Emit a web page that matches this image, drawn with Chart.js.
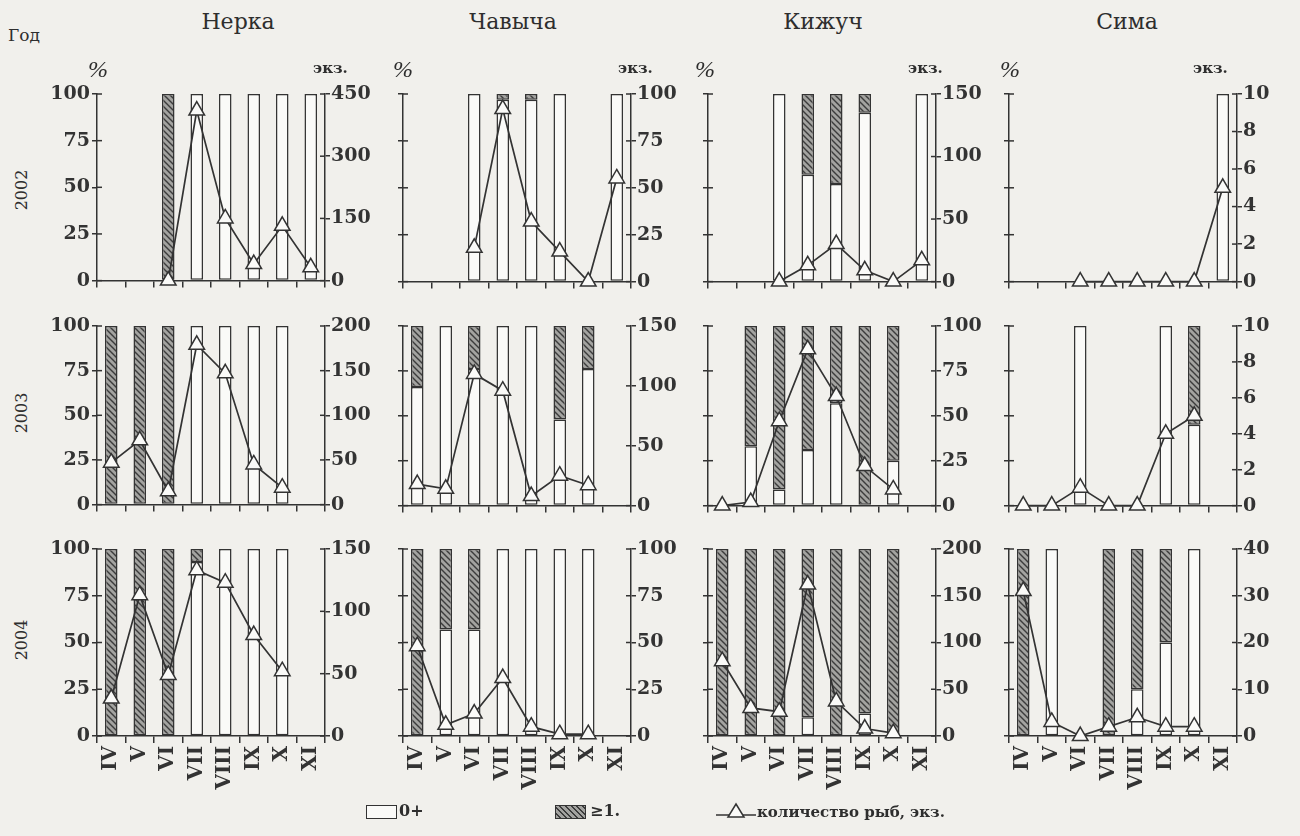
<!DOCTYPE html>
<html lang="ru">
<head>
<meta charset="utf-8">
<title>Нерка, чавыча, кижуч, сима 2002–2004</title>
<script src="https://cdn.jsdelivr.net/npm/chart.js@4.4.1/dist/chart.umd.min.js"></script>
<style>
  html, body { margin: 0; padding: 0; background: #f1f0ec; }
  #page { position: relative; width: 1300px; height: 836px; overflow: hidden;
          font-family: "DejaVu Serif", "Liberation Serif", serif; color: #2e2e2e; }
  #page canvas { position: absolute; }
  .lbl { position: absolute; white-space: nowrap; line-height: 1; }
  .title { font-size: 22px; transform: translateX(-50%); }
  .pct { font-size: 24px; font-family: "Liberation Serif", serif; font-style: italic; }
  .ekz { font-size: 15px; font-weight: bold; }
  .year { font-size: 16px; transform: translate(-50%, -50%) rotate(-90deg); }
  .legend { font-size: 16px; font-weight: bold; }
  .box { position: absolute; width: 29px; height: 12px; border: 1.5px solid #333; }
</style>
</head>
<body>
<div id="page"></div>
<script>
// categories
const months = ["IV", "V", "VI", "VII", "VIII", "IX", "X", "XI"];
const species = ["Нерка", "Чавыча", "Кижуч", "Сима"];
const years = ["2002", "2003", "2004"];

// right axis (экз.) range per row / column
const countMax = [[450, 100, 150, 10], [200, 150, 100, 10], [150, 100, 200, 40]];
const countStep = [[150, 25, 50, 2], [50, 50, 25, 2], [50, 25, 50, 10]];

// Нерка
const nerkaYoung2002 = [null, null, 0, 100, 100, 100, 100, 100];
const nerkaOld2002 = [null, null, 100, 0, 0, 0, 0, 0];
const nerkaCount2002 = [null, null, 0, 410, 150, 40, 132, 32];
const nerkaYoung2003 = [0, 0, 0, 100, 100, 100, 100, null];
const nerkaOld2003 = [100, 100, 100, 0, 0, 0, 0, null];
const nerkaCount2003 = [47, 72, 15, 179, 147, 45, 19, null];
const nerkaYoung2004 = [0, 0, 0, 93, 100, 100, 100, null];
const nerkaOld2004 = [100, 100, 100, 7, 0, 0, 0, null];
const nerkaCount2004 = [30, 113, 49, 133, 123, 81, 52, null];

// Чавыча
const chavYoung2002 = [null, null, 100, 97, 97, 100, null, 100];
const chavOld2002 = [null, null, 0, 3, 3, 0, null, 0];
const chavCount2002 = [null, null, 18, 92, 32, 16, 0, 55];
const chavYoung2003 = [66, 100, 76, 100, 100, 48, 76, null];
const chavOld2003 = [34, 0, 24, 0, 0, 52, 24, null];
const chavCount2003 = [18, 14, 110, 96, 8, 25, 17, null];
const chavYoung2004 = [0, 57, 57, 100, 100, 100, 100, null];
const chavOld2004 = [100, 43, 43, 0, 0, 0, 0, null];
const chavCount2004 = [48, 6, 12, 31, 5, 1, 1, null];

// Кижуч
const kizhYoung2002 = [null, null, 100, 57, 52, 90, null, 100];
const kizhOld2002 = [null, null, 0, 43, 48, 10, null, 0];
const kizhCount2002 = [null, null, 0, 13, 30, 9, 0, 17];
const kizhYoung2003 = [null, 33, 9, 31, 57, 0, 25, null];
const kizhOld2003 = [null, 67, 91, 69, 43, 100, 75, null];
const kizhCount2003 = [0, 2, 47, 87, 61, 22, 9, null];
const kizhYoung2004 = [0, 0, 0, 10, 0, 12, 0, null];
const kizhOld2004 = [100, 100, 100, 90, 100, 88, 100, null];
const kizhCount2004 = [80, 30, 26, 162, 37, 8, 3, null];

// Сима
const simaYoung2002 = [null, null, null, null, null, null, null, 100];
const simaOld2002 = [null, null, null, null, null, null, null, 0];
const simaCount2002 = [null, null, 0, 0, 0, 0, 0, 5];
const simaYoung2003 = [null, null, 100, null, null, 100, 45, null];
const simaOld2003 = [null, null, 0, null, null, 0, 55, null];
const simaCount2003 = [0, 0, 1, 0, 0, 4, 5, null];
const simaYoung2004 = [0, 100, null, 0, 25, 50, 100, null];
const simaOld2004 = [100, 0, null, 100, 75, 50, 0, null];
const simaCount2004 = [31, 3, 0, 2, 4, 2, 2, null];

const panels = [
    [[nerkaYoung2002, nerkaOld2002, nerkaCount2002], [chavYoung2002, chavOld2002, chavCount2002],
     [kizhYoung2002, kizhOld2002, kizhCount2002], [simaYoung2002, simaOld2002, simaCount2002]],
    [[nerkaYoung2003, nerkaOld2003, nerkaCount2003], [chavYoung2003, chavOld2003, chavCount2003],
     [kizhYoung2003, kizhOld2003, kizhCount2003], [simaYoung2003, simaOld2003, simaCount2003]],
    [[nerkaYoung2004, nerkaOld2004, nerkaCount2004], [chavYoung2004, chavOld2004, chavCount2004],
     [kizhYoung2004, kizhOld2004, kizhCount2004], [simaYoung2004, simaOld2004, simaCount2004]],
];

// layout of the plot areas on the page
const plotLeft = [97, 403, 708, 1009];
const plotW = 228;
const plotTop = [94, 326, 549];
const plotH = [188, 180, 187];
const axisW = 56;
const padTop = 14;
const xAxisH = [12, 12, 70];

const ink = "#333333";
const paper = "#fafaf8";
const numFont = { family: "DejaVu Serif", size: 19, weight: "bold" };
const monthFont = { family: "DejaVu Serif", size: 20, weight: "bold" };

const page = document.getElementById("page");

function hatch(ctx) {
    const p = document.createElement("canvas");
    p.width = 6;
    p.height = 6;
    const g = p.getContext("2d");
    g.fillStyle = "#a3a3a0";
    g.fillRect(0, 0, 6, 6);
    g.strokeStyle = "#3c3c3c";
    g.lineWidth = 1.4;
    g.beginPath();
    g.moveTo(-1, -1); g.lineTo(7, 7);
    g.moveTo(-1, 5); g.lineTo(1, 7);
    g.moveTo(5, -1); g.lineTo(7, 1);
    g.stroke();
    return ctx.createPattern(p, "repeat");
}

// tick marks that cross into the plot on both value axes
const crossTicks = {
    id: "crossTicks",
    afterDraw(chart) {
        const ctx = chart.ctx;
        const area = chart.chartArea;
        ctx.save();
        ctx.strokeStyle = ink;
        ctx.lineWidth = 1.5;
        ["y", "y1"].forEach((id) => {
            const s = chart.scales[id];
            const x = id === "y" ? area.left : area.right;
            const dir = id === "y" ? 1 : -1;
            s.ticks.forEach((t, i) => {
                const py = s.getPixelForTick(i);
                ctx.beginPath();
                ctx.moveTo(x, py);
                ctx.lineTo(x + dir * 5, py);
                ctx.stroke();
            });
        });
        ctx.restore();
    },
};

const noZero = (arr) => arr.map((v) => (v ? v : null));

panels.forEach((row, r) => {
    row.forEach(([young, old, count], c) => {
        const cv = document.createElement("canvas");
        const w = plotW + 2 * axisW;
        const h = padTop + plotH[r] + xAxisH[r];
        cv.width = w;
        cv.height = h;
        cv.style.left = plotLeft[c] - axisW + "px";
        cv.style.top = plotTop[r] - padTop + "px";
        page.appendChild(cv);
        const ctx = cv.getContext("2d");

        new Chart(cv, {
            type: "bar",
            data: {
                labels: months,
                datasets: [
                    {
                        label: "0+",
                        data: noZero(young),
                        backgroundColor: paper,
                        borderColor: ink,
                        borderWidth: 1.5,
                        borderSkipped: false,
                        barPercentage: 0.44,
                        categoryPercentage: 1,
                        stack: "pct",
                        yAxisID: "y",
                        order: 1,
                    },
                    {
                        label: "≥1",
                        data: noZero(old),
                        backgroundColor: hatch(ctx),
                        borderColor: ink,
                        borderWidth: 1.5,
                        borderSkipped: false,
                        barPercentage: 0.44,
                        categoryPercentage: 1,
                        stack: "pct",
                        yAxisID: "y",
                        order: 1,
                    },
                    {
                        type: "line",
                        label: "количество рыб, экз.",
                        data: count,
                        yAxisID: "y1",
                        borderColor: ink,
                        borderWidth: 1.7,
                        tension: 0,
                        pointStyle: "triangle",
                        pointRadius: 9,
                        pointBackgroundColor: paper,
                        pointBorderColor: ink,
                        pointBorderWidth: 1.5,
                        clip: false,
                        order: 0,
                    },
                ],
            },
            options: {
                responsive: false,
                animation: false,
                layout: { padding: { top: padTop, left: 0, right: 0, bottom: 0 } },
                plugins: { legend: { display: false }, tooltip: { enabled: false } },
                scales: {
                    x: {
                        stacked: true,
                        grid: { drawOnChartArea: false, offset: true, tickLength: 7, color: ink, lineWidth: 1.5 },
                        border: { color: ink, width: 1.5 },
                        ticks: {
                            display: r === 2,
                            autoSkip: false,
                            maxRotation: 90,
                            minRotation: 90,
                            padding: 3,
                            color: ink,
                            font: monthFont,
                        },
                        afterFit: (s) => { s.height = xAxisH[r]; },
                    },
                    y: {
                        stacked: true,
                        min: 0,
                        max: 100,
                        grid: { drawOnChartArea: false, tickLength: 5, color: ink, lineWidth: 1.5 },
                        border: { color: ink, width: 1.5 },
                        ticks: { stepSize: 25, display: c === 0, padding: 2, color: ink, font: numFont },
                        afterFit: (s) => { s.width = axisW; },
                    },
                    y1: {
                        position: "right",
                        min: 0,
                        max: countMax[r][c],
                        grid: { drawOnChartArea: false, tickLength: 5, color: ink, lineWidth: 1.5 },
                        border: { color: ink, width: 1.5 },
                        ticks: { stepSize: countStep[r][c], padding: 1, color: ink, font: numFont },
                        afterFit: (s) => { s.width = axisW; },
                    },
                },
            },
            plugins: [crossTicks],
        });
    });
});

// texts around the panels
function addText(text, cls, x, y) {
    const d = document.createElement("div");
    d.className = "lbl " + cls;
    d.textContent = text;
    d.style.left = x + "px";
    d.style.top = y + "px";
    page.appendChild(d);
    return d;
}

const titleX = [238, 513, 823, 1127];
species.forEach((s, i) => addText(s, "title", titleX[i], 11));
addText("Год", "", 8, 27).style.fontSize = "17px";

const pctX = [88, 393, 695, 1000];
const ekzX = [313, 618, 908, 1193];
pctX.forEach((x) => addText("%", "pct", x, 57));
ekzX.forEach((x) => addText("экз.", "ekz", x, 61));

const yearY = [190, 413, 640];
years.forEach((y, i) => addText(y, "year", 22, yearY[i]));

// legend
const b1 = document.createElement("div");
b1.className = "box";
b1.style.left = "366px";
b1.style.top = "805px";
b1.style.background = paper;
page.appendChild(b1);
addText("0+", "legend", 399, 803);

const b2 = document.createElement("div");
b2.className = "box";
b2.style.left = "555px";
b2.style.top = "805px";
b2.style.background = "repeating-linear-gradient(45deg, #a3a3a0 0 2.5px, #3c3c3c 2.5px 4px)";
page.appendChild(b2);
addText("≥1.", "legend", 590, 803);

const sym = document.createElementNS("http://www.w3.org/2000/svg", "svg");
sym.setAttribute("width", "40");
sym.setAttribute("height", "20");
sym.style.position = "absolute";
sym.style.left = "716px";
sym.style.top = "801px";
sym.innerHTML =
    '<line x1="0" y1="14" x2="40" y2="14" stroke="#333" stroke-width="1.5"/>' +
    '<polygon points="20,3 28,16 12,16" fill="#fafaf8" stroke="#333" stroke-width="1.5"/>';
page.appendChild(sym);
addText("количество рыб, экз.", "legend", 757, 805).style.fontSize = "15px";
</script>
</body>
</html>
